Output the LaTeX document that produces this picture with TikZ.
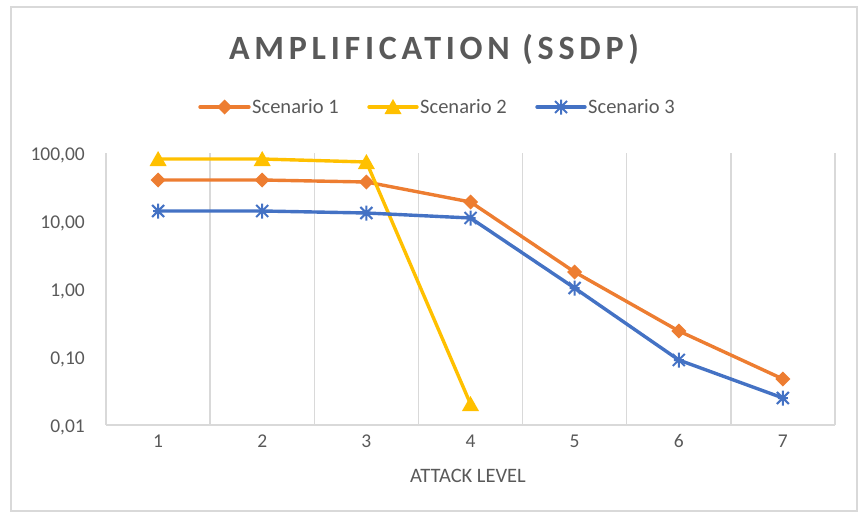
\documentclass[tikz,border=0pt]{standalone}
\usepackage{fontspec}
\setmainfont{Carlito}
\newfontfamily\titlefont[LetterSpace=14]{Carlito}
\definecolor{txtgray}{HTML}{595959}
\definecolor{gridgray}{HTML}{D9D9D9}
\definecolor{sone}{HTML}{ED7D31}
\definecolor{stwo}{HTML}{FFC000}
\definecolor{sthree}{HTML}{4472C4}
\tikzset{
  gridline/.style={draw=gridgray, line width=1.5pt},
  series/.style={line width=3.4pt, line join=round, line cap=round},
  ticklabel/.style={text=txtgray, font=\fontsize{19.5}{22}\selectfont, inner sep=0pt},
  legendlabel/.style={text=txtgray, font=\fontsize{20.5}{24}\selectfont, inner sep=0pt, anchor=base west},
  dmark/.pic={\fill[sone] (-7.5,0) -- (0,-7.5) -- (7.5,0) -- (0,7.5) -- cycle;},
  tmark/.pic={\fill[stwo] (-8.5,7) -- (8.5,7) -- (0,-8) -- cycle;},
  smark/.pic={\draw[sthree, line width=2pt, line cap=butt]
      (0,-7.5) -- (0,7.5) (-6,-6) -- (6,6) (-6,6) -- (6,-6) (-5,0) -- (5,0);}
}
\begin{document}
\begin{tikzpicture}[x=1pt, y=-1pt]
\useasboundingbox (0,0) rectangle (860,514);
% chart frame
\draw[draw=gridgray, line width=1.5pt] (11,7) rectangle (857,511);

% title
\node[text=txtgray, inner sep=0pt, anchor=base,
      font=\titlefont\fontsize{34}{40}\selectfont\bfseries] (title) at (434,59) {AMPLIFICATION (SSDP)};

% legend
\draw[series, sone] (200,107) -- (249,107);
\pic at (224.5,107) {dmark};
\node[legendlabel] (leg1) at (252,113) {Scenario 1};
\draw[series, stwo] (369,107) -- (417,107);
\pic at (393,107) {tmark};
\node[legendlabel] (leg2) at (420,113) {Scenario 2};
\draw[series, sthree] (537,107) -- (585,107);
\pic at (561,107) {smark};
\node[legendlabel] (leg3) at (588,113) {Scenario 3};

% vertical gridlines at category boundaries
\foreach \k in {0,...,7}
  \draw[gridline] ({106+\k*104.14},153) -- ({106+\k*104.14},425);
% horizontal axis
\draw[gridline] (106,425) -- (835,425);

% value axis labels (log scale, 68 per decade)
\node[ticklabel, anchor=base east] (y0) at (85,160) {100,00};
\node[ticklabel, anchor=base east] (y1) at (85,228) {10,00};
\node[ticklabel, anchor=base east] (y2) at (85,296) {1,00};
\node[ticklabel, anchor=base east] (y3) at (85,364) {0,10};
\node[ticklabel, anchor=base east] (y4) at (85,432) {0,01};

% category labels
\foreach \k in {1,...,7}
  \node[ticklabel, anchor=base] (x\k) at ({106+(\k-0.5)*104.14},447) {\k};
\node[text=txtgray, font=\fontsize{20.5}{24}\selectfont, inner sep=0pt, anchor=base] (xtitle) at (468,482) {ATTACK LEVEL};

% data points
\coordinate (a1) at (158.1,180);
\coordinate (a2) at (262.2,180);
\coordinate (a3) at (366.4,182);
\coordinate (a4) at (470.5,202);
\coordinate (a5) at (574.6,272);
\coordinate (a6) at (678.8,331);
\coordinate (a7) at (782.9,379);

\coordinate (b1) at (158.1,159);
\coordinate (b2) at (262.2,159);
\coordinate (b3) at (366.4,162);
\coordinate (b4) at (470.5,404);

\coordinate (c1) at (158.1,211);
\coordinate (c2) at (262.2,211);
\coordinate (c3) at (366.4,213);
\coordinate (c4) at (470.5,218);
\coordinate (c5) at (574.6,288);
\coordinate (c6) at (678.8,360);
\coordinate (c7) at (782.9,398);

% scenario 1
\draw[series, sone] (a1) -- (a2) -- (a3) -- (a4) -- (a5) -- (a6) -- (a7);
\foreach \p in {a1,a2,a3,a4,a5,a6,a7} \pic at (\p) {dmark};
% scenario 2
\draw[series, stwo] (b1) -- (b2) -- (b3) -- (b4);
\foreach \p in {b1,b2,b3,b4} \pic at (\p) {tmark};
% scenario 3
\draw[series, sthree] (c1) -- (c2) -- (c3) -- (c4) -- (c5) -- (c6) -- (c7);
\foreach \p in {c1,c2,c3,c4,c5,c6,c7} \pic at (\p) {smark};
\end{tikzpicture}
\end{document}
